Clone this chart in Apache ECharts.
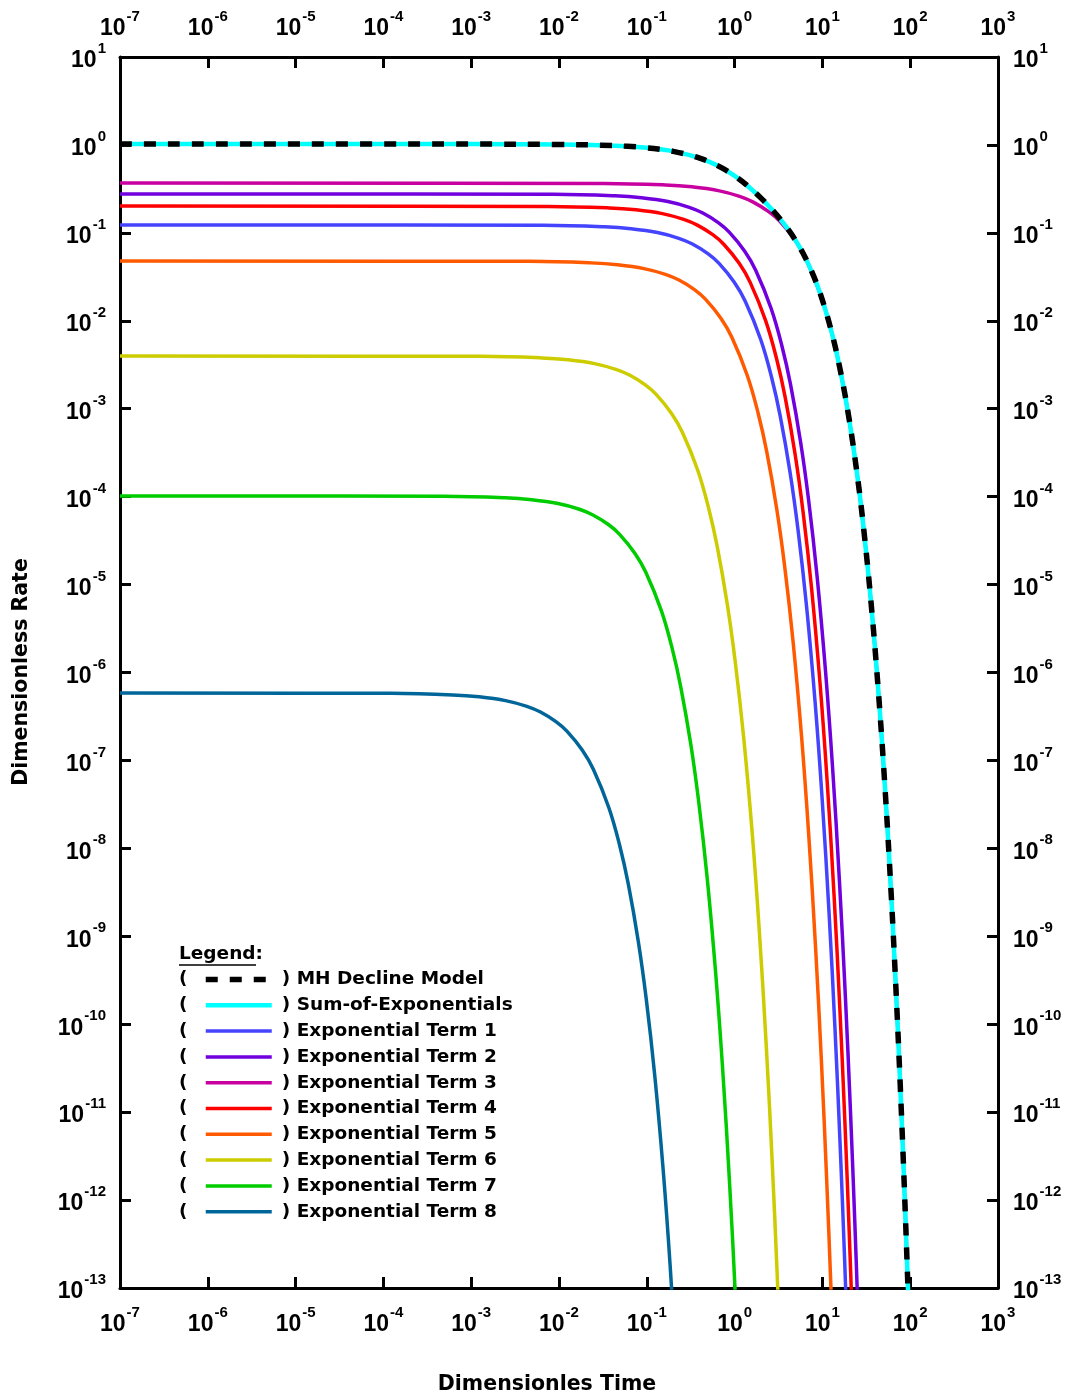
<!DOCTYPE html>
<html>
<head>
<meta charset="utf-8">
<script src="https://cdn.jsdelivr.net/npm/echarts@6/dist/echarts.min.js"></script>
<style>
  html, body { margin: 0; padding: 0; background: #ffffff; }
  #chart { width: 1069px; height: 1397px; }
</style>
</head>
<body>
<div id="chart"></div>
<script>
// Decade exponents shown on the time (x) and rate (y) axes
const timeDecades = [-7, -6, -5, -4, -3, -2, -1, 0, 1, 2, 3];
const rateDecades = [-13, -12, -11, -10, -9, -8, -7, -6, -5, -4, -3, -2, -1, 0, 1];

// MH decline model
const mhTime = [1e-7, 0.001, 0.01, 0.03, 0.06, 0.1, 0.15, 0.2, 0.3, 0.4, 0.5, 0.7, 1, 1.4, 2, 2.7, 3.5, 4.5, 6, 8, 10, 13, 16, 20, 25, 30, 36, 43, 50, 58, 67, 77, 88, 100];
const mhRate = [1.023, 1.022, 1.0128, 0.9930, 0.9642, 0.9278, 0.8849, 0.8448, 0.7719, 0.7075, 0.6504, 0.5544, 0.4453, 0.3440, 0.2483, 0.1814, 0.1336, 0.0950, 0.05893, 0.03175, 0.01718, 0.006842, 0.002725, 7.991e-4, 1.7245e-4, 3.720e-5, 5.904e-6, 6.898e-7, 8.056e-8, 6.926e-9, 4.380e-10, 2.038e-11, 6.982e-13, 1.759e-14];

// Sum of the eight exponential terms
const sumTime = [1e-7, 0.001, 0.01, 0.03, 0.06, 0.1, 0.15, 0.2, 0.3, 0.4, 0.5, 0.7, 1, 1.4, 2, 2.7, 3.5, 4.5, 6, 8, 10, 13, 16, 20, 25, 30, 36, 43, 50, 58, 67, 77, 88, 100];
const sumRate = [1.023, 1.022, 1.0128, 0.9930, 0.9642, 0.9278, 0.8849, 0.8448, 0.7719, 0.7075, 0.6504, 0.5544, 0.4453, 0.3440, 0.2483, 0.1814, 0.1336, 0.0950, 0.05893, 0.03175, 0.01718, 0.006842, 0.002725, 7.991e-4, 1.7245e-4, 3.720e-5, 5.904e-6, 6.898e-7, 8.056e-8, 6.926e-9, 4.380e-10, 2.038e-11, 6.982e-13, 1.759e-14];

// Individual exponential terms
const term1Time = [1e-7, 0.00661, 0.03305, 0.0661, 0.1322, 0.2314, 0.3305, 0.4958, 0.661, 0.9915, 1.322, 1.983, 2.644, 3.305, 4.297, 5.288, 6.61, 8.263, 9.915, 11.9, 13.88, 15.86, 17.85, 19.83];
const term1Rate = [0.123, 0.12178, 0.11700, 0.11130, 0.10070, 0.08668, 0.07460, 0.05810, 0.04525, 0.027445, 0.016647, 0.0061238, 0.0022529, 8.2876e-4, 1.8492e-4, 4.1262e-5, 5.5842e-6, 4.5838e-7, 3.7626e-8, 1.8733e-9, 9.3266e-11, 4.6434e-12, 2.3118e-13, 1.1510e-14];

const term2Time = [1e-7, 0.00869, 0.04345, 0.0869, 0.1738, 0.3042, 0.4345, 0.6518, 0.869, 1.304, 1.738, 2.607, 3.476, 4.345, 5.649, 6.952, 8.69, 10.86, 13.04, 15.64, 18.25, 20.86, 23.46, 26.07];
const term2Rate = [0.277, 0.27424, 0.26349, 0.25064, 0.22679, 0.19520, 0.16801, 0.13085, 0.10190, 0.061807, 0.037489, 0.013791, 0.0050735, 0.0018664, 4.1644e-4, 9.2922e-5, 1.2576e-5, 1.0323e-6, 8.4734e-8, 4.2187e-9, 2.1004e-10, 1.0457e-11, 5.2062e-13, 2.5921e-14];

const term3Time = [1e-7, 0.0326, 0.163, 0.326, 0.652, 1.141, 1.63, 2.445, 3.26, 4.89, 6.52, 9.78, 13.04, 16.3, 21.19, 26.08, 32.6, 40.75, 48.9, 58.68, 68.46, 78.24, 88.02, 97.8];
const term3Rate = [0.369, 0.36533, 0.35100, 0.33389, 0.30211, 0.26003, 0.22381, 0.17430, 0.13575, 0.082335, 0.049940, 0.018371, 0.0067586, 0.0024863, 5.5475e-4, 1.2378e-4, 1.6753e-5, 1.3752e-6, 1.1288e-7, 5.6199e-9, 2.7980e-10, 1.3930e-11, 6.9354e-13, 3.4530e-14];

const term4Time = [1e-7, 0.00752, 0.0376, 0.0752, 0.1504, 0.2632, 0.376, 0.564, 0.752, 1.128, 1.504, 2.256, 3.008, 3.76, 4.888, 6.016, 7.52, 9.4, 11.28, 13.54, 15.79, 18.05, 20.3, 22.56];
const term4Rate = [0.202, 0.19999, 0.19215, 0.18278, 0.16538, 0.14235, 0.12252, 0.095419, 0.074312, 0.045072, 0.027339, 0.010057, 0.0036998, 0.0013611, 3.0369e-4, 6.7763e-5, 9.1708e-6, 7.5279e-7, 6.1792e-8, 3.0765e-9, 1.5317e-10, 7.6257e-12, 3.7966e-13, 1.8902e-14];

const term5Time = [1e-7, 0.00465, 0.02325, 0.0465, 0.093, 0.1628, 0.2325, 0.3488, 0.465, 0.6975, 0.93, 1.395, 1.86, 2.325, 3.023, 3.72, 4.65, 5.813, 6.975, 8.37, 9.765, 11.16, 12.56, 13.95];
const term5Rate = [0.0479, 0.047423, 0.045564, 0.043342, 0.039217, 0.033755, 0.029053, 0.022627, 0.017621, 0.010688, 0.0064828, 0.0023848, 8.7734e-4, 3.2275e-4, 7.2013e-5, 1.6069e-5, 2.1747e-6, 1.7851e-7, 1.4653e-8, 7.2952e-10, 3.6321e-11, 1.8083e-12, 9.0028e-14, 4.4823e-15];

const term6Time = [1e-7, 0.00127, 0.00635, 0.0127, 0.0254, 0.04445, 0.0635, 0.09525, 0.127, 0.1905, 0.254, 0.381, 0.508, 0.635, 0.8255, 1.016, 1.27, 1.588, 1.905, 2.286, 2.667, 3.048, 3.429];
const term6Rate = [0.00398, 0.0039404, 0.0037859, 0.0036013, 0.0032585, 0.0028047, 0.0024140, 0.0018800, 0.0014642, 8.8806e-4, 5.3865e-4, 1.9815e-4, 7.2898e-5, 2.6817e-5, 5.9835e-6, 1.3351e-6, 1.8069e-7, 1.4832e-8, 1.2175e-9, 6.0615e-11, 3.0179e-12, 1.5025e-13, 7.4804e-15];

const term7Time = [1e-7, 0.000487, 0.002435, 0.00487, 0.00974, 0.01705, 0.02435, 0.03653, 0.0487, 0.07305, 0.0974, 0.1461, 0.1948, 0.2435, 0.3166, 0.3896, 0.487, 0.6088, 0.7305, 0.8766, 1.023, 1.169];
const term7Rate = [1.02e-4, 1.0099e-4, 9.7025e-5, 9.2294e-5, 8.3510e-5, 7.1878e-5, 6.1866e-5, 4.8182e-5, 3.7524e-5, 2.2759e-5, 1.3805e-5, 5.0783e-6, 1.8682e-6, 6.8727e-7, 1.5335e-7, 3.4217e-8, 4.6308e-9, 3.8012e-10, 3.1202e-11, 1.5535e-12, 7.7343e-14, 3.8506e-15];

const term8Time = [1e-7, 0.000123, 0.000615, 0.00123, 0.00246, 0.004305, 0.00615, 0.009225, 0.0123, 0.01845, 0.0246, 0.0369, 0.0492, 0.0615, 0.07995, 0.0984, 0.123, 0.1538, 0.1845, 0.2214];
const term8Rate = [5.85e-7, 5.7918e-7, 5.5647e-7, 5.2933e-7, 4.7896e-7, 4.1224e-7, 3.5482e-7, 2.7634e-7, 2.1521e-7, 1.3053e-7, 7.9174e-8, 2.9125e-8, 1.0715e-8, 3.9417e-9, 8.7949e-10, 1.9624e-10, 2.6559e-11, 2.1801e-12, 1.7895e-13, 8.9096e-15];

// Series names (legend order) and colours
const seriesNames = ['MH Decline Model', 'Sum-of-Exponentials', 'Exponential Term 1', 'Exponential Term 2', 'Exponential Term 3', 'Exponential Term 4', 'Exponential Term 5', 'Exponential Term 6', 'Exponential Term 7', 'Exponential Term 8'];
const seriesColors = ['#000000', '#00ffff', '#4444ff', '#7000dd', '#c800a0', '#ff0000', '#ff5a00', '#cccc00', '#00cc00', '#006699'];

const FONT = '"DejaVu Sans", "Liberation Sans", Arial, sans-serif';
const TICK_FONT = '"Liberation Sans", Arial, Helvetica, sans-serif';

function pairs(times, rates) {
  return times.map(function (t, i) { return [t, rates[i]]; });
}

function lineSeries(idx, times, rates, width, dash) {
  return {
    type: 'line',
    name: seriesNames[idx],
    data: pairs(times, rates),
    xAxisIndex: 0,
    yAxisIndex: 0,
    symbol: 'none',
    showSymbol: false,
    smooth: 0.4,
    clip: true,
    silent: true,
    lineStyle: { color: seriesColors[idx], width: width, type: dash || 'solid', cap: 'butt', join: 'round' },
    itemStyle: { color: seriesColors[idx] },
    emphasis: { disabled: true }
  };
}

// "10" with a raised exponent
function powerLabel(v) {
  const e = Math.round(Math.log10(v));
  return '{b|10}{s|' + e + '}';
}
const powerRich = {
  b: { fontFamily: TICK_FONT, fontWeight: 'bold', fontSize: 23, color: '#000', padding: [8, 0, 0, 0] },
  s: { fontFamily: TICK_FONT, fontWeight: 'bold', fontSize: 15, color: '#000', padding: [0, 0, 16, 1] }
};

function logAxis(position, decades, margin) {
  return {
    type: 'log',
    logBase: 10,
    position: position,
    min: Math.pow(10, decades[0]),
    max: Math.pow(10, decades[decades.length - 1]),
    interval: 1,
    splitNumber: decades.length - 1,
    axisLine: { show: true, onZero: false, lineStyle: { color: '#000', width: 3 } },
    axisTick: { show: true, inside: true, length: 11, lineStyle: { color: '#000', width: 3 } },
    minorTick: { show: false },
    splitLine: { show: false },
    minorSplitLine: { show: false },
    axisLabel: {
      show: true,
      margin: margin,
      formatter: powerLabel,
      rich: powerRich,
      showMinLabel: true,
      showMaxLabel: true,
      hideOverlap: false
    }
  };
}

// Legend decorations: heading, underline and opening brackets
const legendRowTop = 979.5;
const legendRowStep = 25.8;
const legendGraphics = [
  {
    type: 'text', x: 179, y: 954.5,
    style: { text: 'Legend:', fill: '#000', font: 'bold 18.5px ' + FONT, align: 'left', verticalAlign: 'middle' }
  },
  {
    type: 'line',
    shape: { x1: 179, y1: 965, x2: 256, y2: 965 },
    style: { stroke: '#000', lineWidth: 1.6 }
  }
];
seriesNames.forEach(function (n, i) {
  legendGraphics.push({
    type: 'text', x: 179, y: legendRowTop + i * legendRowStep,
    style: { text: '(', fill: '#000', font: 'bold 18.5px ' + FONT, align: 'left', verticalAlign: 'middle' }
  });
});

const chart = echarts.init(document.getElementById('chart'), null, { renderer: 'canvas' });

chart.setOption({
  animation: false,
  backgroundColor: '#ffffff',
  grid: { left: 120, top: 57, right: 71, bottom: 109, containLabel: false },
  xAxis: [logAxis('bottom', timeDecades, 17), logAxis('top', timeDecades, 17)],
  yAxis: [logAxis('left', rateDecades, 14), logAxis('right', rateDecades, 15)],
  legend: {
    orient: 'vertical',
    left: 203,
    top: legendRowTop - 11,
    padding: 0,
    data: seriesNames,
    itemWidth: 66,
    itemHeight: 2,
    itemGap: 3.8,
    selectedMode: false,
    formatter: function (name) { return ') ' + name; },
    textStyle: { fontFamily: FONT, fontWeight: 'bold', fontSize: 18.5, color: '#000', lineHeight: 22, padding: [0, 0, 0, 5] },
    lineStyle: { width: 'inherit' },
    itemStyle: { opacity: 0 }
  },
  graphic: [
    {
      type: 'text', x: 22, y: 672, rotation: Math.PI / 2,
      style: { text: 'Dimensionless Rate', fill: '#000', font: 'bold 20.5px ' + FONT, align: 'center', verticalAlign: 'middle' }
    },
    {
      type: 'text', x: 547, y: 1385,
      style: { text: 'Dimensionles Time', fill: '#000', font: 'bold 20.5px ' + FONT, align: 'center', verticalAlign: 'middle' }
    }
  ].concat(legendGraphics),
  series: [
    lineSeries(2, term1Time, term1Rate, 3.5),
    lineSeries(3, term2Time, term2Rate, 3.5),
    lineSeries(4, term3Time, term3Rate, 3.5),
    lineSeries(5, term4Time, term4Rate, 3.5),
    lineSeries(6, term5Time, term5Rate, 3.5),
    lineSeries(7, term6Time, term6Rate, 3.5),
    lineSeries(8, term7Time, term7Rate, 3.5),
    lineSeries(9, term8Time, term8Rate, 3.5),
    lineSeries(1, sumTime, sumRate, 4.5),
    lineSeries(0, mhTime, mhRate, 5.5, [12, 12])
  ]
});
</script>
</body>
</html>
